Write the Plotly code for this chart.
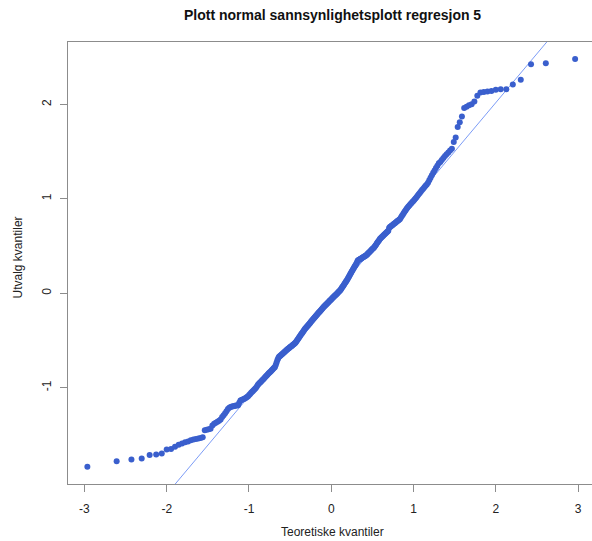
import numpy as np
import plotly.graph_objects as go
from statistics import NormalDist

# Sorted sample quantiles, n = 330
sample_quantiles = [
    -1.838, -1.778, -1.760, -1.750, -1.712, -1.708, -1.697, -1.655, -1.650, -1.625,
    -1.605, -1.590, -1.578, -1.570, -1.558, -1.550, -1.544, -1.538, -1.532, -1.526,
    -1.450, -1.446, -1.440, -1.434, -1.400, -1.382, -1.372, -1.360, -1.350, -1.338,
    -1.310, -1.292, -1.270, -1.250, -1.225, -1.212, -1.205, -1.200, -1.196, -1.193,
    -1.190, -1.188, -1.185, -1.160, -1.135, -1.130, -1.125, -1.120, -1.115, -1.108,
    -1.100, -1.090, -1.078, -1.066, -1.055, -1.044, -1.033, -1.022, -1.012, -1.000,
    -0.985, -0.970, -0.958, -0.948, -0.940, -0.930, -0.920, -0.910, -0.900, -0.890,
    -0.880, -0.870, -0.860, -0.851, -0.842, -0.833, -0.825, -0.816, -0.807, -0.798,
    -0.789, -0.780, -0.760, -0.735, -0.710, -0.690, -0.675, -0.668, -0.661, -0.654,
    -0.647, -0.640, -0.633, -0.626, -0.619, -0.612, -0.605, -0.598, -0.591, -0.585,
    -0.579, -0.573, -0.567, -0.561, -0.555, -0.549, -0.543, -0.537, -0.531, -0.524,
    -0.514, -0.503, -0.493, -0.482, -0.471, -0.460, -0.450, -0.440, -0.430, -0.420,
    -0.410, -0.400, -0.390, -0.380, -0.372, -0.364, -0.356, -0.348, -0.340, -0.331,
    -0.323, -0.314, -0.306, -0.298, -0.289, -0.281, -0.272, -0.264, -0.256, -0.249,
    -0.241, -0.233, -0.226, -0.218, -0.210, -0.202, -0.195, -0.187, -0.179, -0.172,
    -0.164, -0.156, -0.148, -0.141, -0.134, -0.128, -0.121, -0.115, -0.108, -0.102,
    -0.095, -0.088, -0.081, -0.075, -0.068, -0.061, -0.054, -0.048, -0.041, -0.035,
    -0.028, -0.021, -0.015, -0.008, -0.002, 0.005, 0.012, 0.018, 0.025, 0.032,
    0.042, 0.052, 0.062, 0.072, 0.083, 0.093, 0.103, 0.113, 0.123, 0.133,
    0.145, 0.157, 0.169, 0.181, 0.193, 0.205, 0.217, 0.229, 0.241, 0.253,
    0.265, 0.277, 0.289, 0.300, 0.312, 0.325, 0.343, 0.350, 0.354, 0.358,
    0.362, 0.366, 0.371, 0.375, 0.380, 0.384, 0.389, 0.393, 0.398, 0.403,
    0.410, 0.417, 0.425, 0.432, 0.440, 0.447, 0.455, 0.462, 0.470, 0.477,
    0.485, 0.495, 0.506, 0.517, 0.528, 0.540, 0.551, 0.562, 0.573, 0.582,
    0.590, 0.598, 0.606, 0.614, 0.622, 0.630, 0.638, 0.646, 0.654, 0.662,
    0.690, 0.700, 0.707, 0.714, 0.721, 0.728, 0.735, 0.742, 0.749, 0.757,
    0.764, 0.771, 0.778, 0.787, 0.802, 0.817, 0.832, 0.847, 0.862, 0.877,
    0.892, 0.905, 0.917, 0.929, 0.941, 0.953, 0.965, 0.977, 0.989, 1.002,
    1.017, 1.032, 1.047, 1.062, 1.077, 1.092, 1.107, 1.122, 1.137, 1.152,
    1.170, 1.195, 1.222, 1.250, 1.275, 1.300, 1.325, 1.350, 1.375, 1.390,
    1.410, 1.432, 1.452, 1.472, 1.490, 1.510, 1.530, 1.600, 1.650, 1.760,
    1.810, 1.870, 1.960, 1.975, 1.990, 2.000, 2.030, 2.090, 2.125, 2.130,
    2.135, 2.140, 2.155, 2.160, 2.160, 2.210, 2.260, 2.425, 2.435, 2.480,
]

x_tick_vals = [-3, -2, -1, 0, 1, 2, 3]
y_tick_vals = [-1, 0, 1, 2]

title_text = "Plott normal sannsynlighetsplott regresjon 5"
x_title = "Teoretiske kvantiler"
y_title = "Utvalg kvantiler"

# Theoretical quantiles (R's ppoints, a = 0.5 for n > 10)
n = len(sample_quantiles)
nd = NormalDist()
theoretical = [nd.inv_cdf((i + 0.5) / n) for i in range(n)]

# qqline: through first and third quartiles
y_arr = np.array(sample_quantiles)
q1, q3 = np.quantile(y_arr, [0.25, 0.75])
z1, z3 = nd.inv_cdf(0.25), nd.inv_cdf(0.75)
slope = (q3 - q1) / (z3 - z1)
intercept = q1 - slope * z1
line_x = [-4, 4]
line_y = [intercept + slope * v for v in line_x]

FONT = "Liberation Sans, Arial, Helvetica, sans-serif"
POINT_COLOR = "#3A5FCD"
LINE_COLOR = "#7C9CF6"
AXIS_COLOR = "#8c8c8c"

fig = go.Figure()
fig.add_trace(go.Scatter(
    x=line_x, y=line_y, mode="lines",
    line=dict(color=LINE_COLOR, width=1),
    hoverinfo="skip", showlegend=False,
))
fig.add_trace(go.Scatter(
    x=theoretical, y=sample_quantiles, mode="markers",
    marker=dict(color=POINT_COLOR, size=6, line=dict(width=0)),
    showlegend=False,
))

fig.update_layout(
    width=592, height=541,
    margin=dict(l=68, r=0, t=42, b=57, pad=0),
    paper_bgcolor="white", plot_bgcolor="white",
    font=dict(family=FONT, size=12, color="#222222"),
    showlegend=False,
    annotations=[
        dict(text="<b>" + title_text + "</b>", xref="paper", yref="paper",
             x=0.504, y=1.061, xanchor="center", yanchor="middle",
             showarrow=False, font=dict(size=14, color="#111111", family=FONT)),
        dict(text=x_title, xref="paper", yref="paper",
             x=0.504, y=-0.109, xanchor="center", yanchor="middle",
             showarrow=False, font=dict(size=12, color="#222222", family=FONT)),
        dict(text=y_title, xref="paper", yref="paper",
             x=-0.095, y=0.513, xanchor="center", yanchor="middle", textangle=-90,
             showarrow=False, font=dict(size=12, color="#222222", family=FONT)),
    ],
)
fig.update_xaxes(
    range=[-3.2, 3.17], tickvals=x_tick_vals, ticktext=[str(v) for v in x_tick_vals],
    showgrid=False, zeroline=False,
    showline=True, linecolor=AXIS_COLOR, linewidth=1.2, mirror=True,
    ticks="outside", ticklen=7, tickcolor=AXIS_COLOR, tickwidth=1,
    ticklabelstandoff=6,
)
fig.update_yaxes(
    range=[-2.02, 2.66], tickvals=y_tick_vals, ticktext=[str(v) for v in y_tick_vals],
    showgrid=False, zeroline=False,
    showline=True, linecolor=AXIS_COLOR, linewidth=1.2, mirror=False,
    ticks="outside", ticklen=7, tickcolor=AXIS_COLOR, tickwidth=1,
    tickangle=-90, ticklabelstandoff=4,
)

fig.write_html(
    "out.html",
    config={"displayModeBar": False},
    post_script="document.body.style.margin='0px';document.body.style.padding='0px';",
)
